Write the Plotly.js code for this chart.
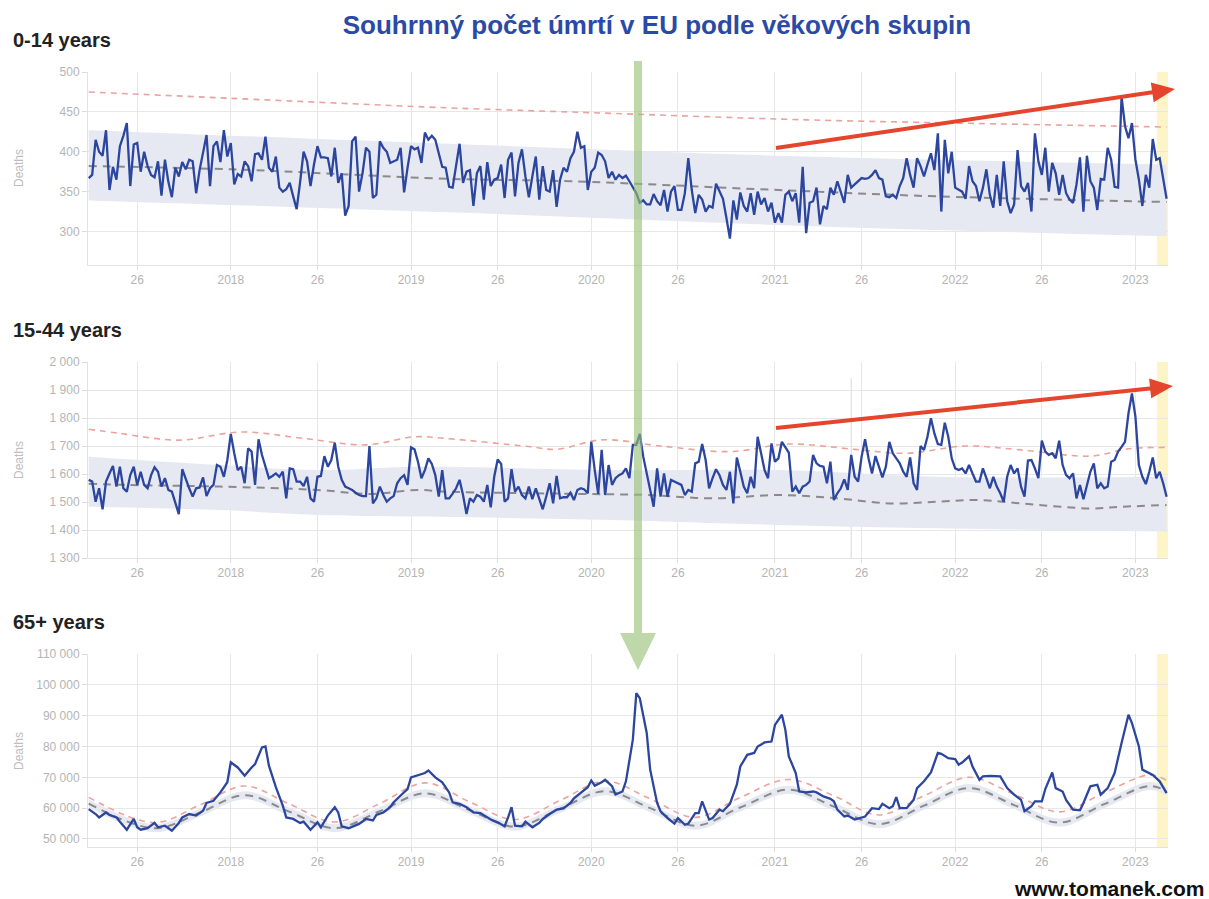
<!DOCTYPE html>
<html>
<head>
<meta charset="utf-8">
<script src="https://cdn.plot.ly/plotly-3.0.1.min.js"></script>
<style>
html,body{margin:0;padding:0;background:#ffffff;}
#chart{width:1209px;height:899px;}
</style>
</head>
<body>
<div id="chart"></div>
<script>
// ---------- DATA ----------
// Weekly series, first point = ISO week 2017-W12, last = 2023-W10
const tickWeeks  = [14, 41, 66, 93, 118, 145, 170, 198, 223, 250, 275, 302];
const tickLabels = ['26','2018','26','2019','26','2020','26','2021','26','2022','26','2023'];

const panelTitles = ['0-14 years', '15-44 years', '65+ years'];
const mainTitle = 'Souhrnný počet úmrtí v EU podle věkových skupin';
const credit = 'www.tomanek.com';
const yTitle = 'Deaths';

// 0-14 years, weekly deaths
const deaths014 = [
367,371,415,400,395,427,352,381,365,407,
420,436,357,409,411,375,400,382,371,368,
388,345,390,362,343,380,369,387,378,390,
388,348,377,398,421,357,407,413,387,427,
394,411,359,372,369,388,382,363,397,398,
390,419,380,375,394,355,350,353,361,344,
328,362,400,388,357,384,407,393,393,392,
369,405,361,373,320,332,413,419,350,373,
405,400,342,346,413,405,400,386,388,390,
405,349,380,407,403,405,386,424,415,420,
415,396,381,
380,356,355,380,410,361,375,377,332,373,
382,340,387,357,365,367,384,342,390,
399,344,386,403,369,343,369,394,340,382,
352,350,377,331,365,380,375,392,400,
425,405,407,352,375,380,399,396,388,367,
375,365,371,367,370,363,355,348,336,
339,334,334,347,338,333,352,325,350,
357,327,327,348,392,352,323,346,340,325,
332,330,360,350,341,317,291,339,315,349,
332,325,348,321,350,334,342,325,336,311,
323,311,346,350,338,348,311,381,
298,336,338,355,309,332,328,355,346,363,
350,336,371,355,359,363,367,366,367,371,
377,367,365,344,343,346,342,357,367,392,
371,355,392,382,369,384,398,377,423,325,
415,373,400,355,352,350,341,382,363,357,
338,355,378,346,330,371,332,388,338,323,
334,402,357,350,361,325,423,388,371,405,
350,386,373,346,371,348,340,336,359,393,
325,395,363,355,327,366,365,405,390,356,
355,469,432,417,436,390,365,332,371,355,
416,390,392,365,341
];
const baseWeeks014 = [0, 41, 104, 139, 199, 245, 311];
const expected014  = [382, 378, 366, 363, 352, 344, 337];
const thrWeeks014  = [0, 41, 104, 145, 207, 250, 311];
const threshold014 = [475, 467, 455, 449, 440, 436, 431];
const bandWeeks014 = [0, 104, 207, 311];
const bandHigh014  = [427, 410, 394, 384];
const bandLow014   = [339, 324, 307, 294];

// 15-44 years, weekly deaths
const deaths1544 = [
1579,1573,1501,1549,1474,1573,1602,1629,1555,1626,
1549,1537,1596,1626,1561,1608,1561,1549,1596,1624,
1608,1555,1585,1543,1537,1500,1457,1617,1579,1549,
1519,1549,1552,1588,1521,1549,1561,1632,1626,1590,
1650,1743,1674,1614,1626,1567,1692,1680,1561,1724,
1668,1626,1585,1593,1602,1590,1608,1513,1620,1617,
1573,1573,1557,1590,1513,1501,1590,1593,1664,1626,
1650,1712,1626,1579,1555,1549,1543,1533,1525,1521,
1521,1700,1495,1513,1555,1525,1501,1513,1521,1567,
1585,1596,1561,1695,1688,1644,1585,1614,1656,1636,
1596,1519,1614,
1513,1513,1530,1549,1579,1525,1457,1513,1501,1525,
1519,1501,1561,1481,1590,1652,1636,1501,1513,1617,
1537,1555,1525,1513,1555,1510,1549,1507,1474,1519,
1567,1495,1593,1513,1517,1517,1533,1507,1543,1549,
1545,1531,1715,1614,1529,1686,1525,1632,1561,1585,
1596,1602,1620,1585,1704,1704,1743,1662,1602,1543,
1483,1620,1519,1602,1519,1579,1573,1567,1561,1525,
1543,1537,1638,1644,1707,1650,1549,1585,1617,1596,
1561,1543,1608,1495,1659,1608,1555,1531,1590,1549,
1733,1674,1614,1585,1709,1644,1656,1715,1695,1676,
1537,1555,1531,1555,
1561,1573,1668,1638,1629,1626,1567,1644,1507,1531,
1549,1581,1543,1668,1590,1573,1662,1724,1656,1602,
1664,1626,1588,1626,1715,1674,1656,1638,1608,1590,
1659,1567,1543,1700,1686,1733,1799,1745,1707,1704,
1783,1733,1656,1620,1614,1620,1602,1632,1602,1573,
1573,1620,1585,1549,1590,1555,1531,1501,1590,1632,
1602,1620,1555,1519,1648,1650,1620,1585,1719,1680,
1668,1674,1656,1719,1632,1596,1585,1602,1513,1561,
1510,1561,1608,1638,1549,1567,1549,1555,1644,1650,
1680,1697,1715,1817,1888,1805,1632,1590,1564,1608,
1659,1585,1608,1567,1519
];
const baseWeeks1544 = [0, 11, 38, 66, 81, 95, 103, 141, 161, 180, 199, 216, 231, 245, 257, 269, 289, 298, 311];
const expected1544  = [1565,1561,1555,1543,1529,1543,1537,1529,1525,1513,1525,1513,1495,1501,1507,1495,1477,1483,1489];
const thrWeeks1544  = [0, 9, 26, 44, 62, 80, 94, 103, 127, 135, 148, 165, 185, 202, 221, 236, 253, 269, 289, 300, 311];
const threshold1544 = [1760,1745,1721,1750,1727,1704,1733,1727,1698,1688,1722,1700,1680,1707,1688,1674,1700,1686,1664,1690,1695];
const bandWeeks1544 = [0, 38, 66, 95, 151, 199, 245, 311];
const bandHigh1544  = [1662,1632,1614,1626,1614,1614,1590,1590];
const bandLow1544   = [1483,1471,1454,1448,1436,1418,1406,1395];

// 65+ years (read about every 1-2 weeks)
const weeks65 = [
0,2,3,5,6,8,9,11,13,14,15,17,19,20,22,24,26,27,29,31,
33,34,36,38,40,41,43,45,47,48,50,51,52,54,56,57,59,61,62,64,
66,67,69,71,72,73,75,77,78,80,82,83,85,87,88,90,92,93,95,97,
98,100,102,104,105,107,109,111,113,115,116,118,120,121,122,123,125,126,128,130,
131,133,135,137,139,140,142,144,145,146,
148,149,151,152,154,155,157,158,159,161,162,164,165,167,169,170,172,173,175,176,
177,179,180,182,183,185,187,188,190,192,193,195,197,198,200,201,202,204,205,207,
209,210,212,214,215,216,218,219,221,223,224,226,228,229,231,232,233,234,236,238,
239,241,243,245,246,248,250,251,252,254,255,257,258,260,262,263,265,267,269,270,
272,273,275,276,278,279,281,282,284,286,287,289,291,292,294,296,298,300,301,303,
304,306,307,309,311
];
const deaths65 = [
59700,58100,57000,58600,57800,57000,55600,53000,56500,53800,53000,53500,55200,53800,54300,52700,55200,57000,58100,57600,
59200,61700,62400,65100,68400,74900,73200,70500,73200,74300,79700,80000,73800,66800,60800,57000,56500,55200,55600,53000,
55400,53800,57600,60300,58600,54100,53500,54300,54900,56500,56000,57800,58600,60300,61900,64100,66200,70000,70800,71400,
72200,70000,68400,65100,61900,61400,60300,58600,58400,57000,56300,55400,54100,57000,60300,54300,54100,55600,53800,55200,
56500,58100,59500,59900,61700,63200,65100,66800,69000,67300,
68400,69200,67100,64400,65400,68700,82200,97300,95700,84400,72500,61700,59000,56800,55000,56800,54600,55000,58400,58400,
62200,56300,56800,59500,59000,61400,67600,73500,77300,77900,80000,81300,81600,87000,90300,85400,76800,71400,65400,65100,
65400,65100,63800,63000,62200,59500,57300,57600,56300,57100,57300,60000,59700,61400,60000,60600,63600,60000,60000,62700,
66500,68700,71600,77900,77600,76200,75900,74100,74800,76800,73500,69200,70300,70500,70500,70300,66500,64400,62700,59000,
60600,62200,62200,66200,71600,66500,65400,62700,59500,59300,61700,67100,67600,64400,66500,71400,81100,90300,87600,80000,
72500,71400,70800,68700,64900
];
const baseWeeks65 = [0,19,32,45,58,71,84,97,110,123,136,149,162,175,188,202,215,228,241,254,267,280,293,306,311];
const expected65  = [61500,53500,58500,64200,58800,53500,59000,64800,59300,54000,59800,65500,60000,54300,60200,66000,60500,54800,60800,66500,61000,55300,61300,67200,65500];
const threshold65 = [63500,55300,61000,67200,61300,55500,61500,68200,62000,56300,62500,68800,63000,57000,63500,69300,64000,57800,64000,70000,64500,58800,65000,70800,69000];
const bandHigh65  = [62800,54800,59800,65500,60100,54800,60300,66100,60600,55300,61100,66800,61300,55600,61500,67300,61800,56100,62100,67800,62300,56600,62600,68500,66800];
const bandLow65   = [60200,52200,57200,62900,57500,52200,57700,63500,58000,52700,58500,64200,58700,53000,58900,64700,59200,53500,59500,65200,59700,54000,60000,65900,64200];

// highlighted (incomplete) last weeks
const highlightFrom = 308.2;

// ---------- STYLE ----------
const FONT = 'Liberation Sans, Arial, Helvetica, sans-serif';
const C_MAIN = '#2c469f';
const C_EXP = '#8a8a8a';
const C_THR = '#eaa39d';
const C_BAND = '#e6e9f1';
const C_GRID = '#e7e7e7';
const C_TICK = '#b4b4b4';

// plot area in pixels
const L = 88, R = 1168, T = 72, B = 847;
const fx = px => (px - L) / (R - L);
const fy = py => (B - py) / (B - T);

const X_RANGE = [-0.2, 311.4];
const idx = arr => arr.map((_, i) => i);

function panelTraces(n, series, sx, bw, bh, bl, ew, ev, tw, tv) {
  const xa = n === 1 ? 'x' : 'x' + n, ya = n === 1 ? 'y' : 'y' + n;
  return [
    {x: bw, y: bl, xaxis: xa, yaxis: ya, mode: 'lines', line: {width: 0, shape: 'spline'}, hoverinfo: 'skip', showlegend: false},
    {x: bw, y: bh, xaxis: xa, yaxis: ya, mode: 'lines', line: {width: 0, shape: 'spline'}, fill: 'tonexty', fillcolor: C_BAND, hoverinfo: 'skip', showlegend: false},
    {x: tw, y: tv, xaxis: xa, yaxis: ya, mode: 'lines', line: {color: C_THR, width: 1.6, dash: '6px,5px', shape: 'spline'}, hoverinfo: 'skip', showlegend: false},
    {x: ew, y: ev, xaxis: xa, yaxis: ya, mode: 'lines', line: {color: C_EXP, width: 2, dash: '8px,6px', shape: 'spline'}, hoverinfo: 'skip', showlegend: false},
    {x: sx, y: series, xaxis: xa, yaxis: ya, mode: 'lines', line: {color: C_MAIN, width: 2.3}, hoverinfo: 'skip', showlegend: false}
  ];
}

const data = [].concat(
  panelTraces(1, deaths014, idx(deaths014), bandWeeks014, bandHigh014, bandLow014, baseWeeks014, expected014, thrWeeks014, threshold014),
  panelTraces(2, deaths1544, idx(deaths1544), bandWeeks1544, bandHigh1544, bandLow1544, baseWeeks1544, expected1544, thrWeeks1544, threshold1544),
  panelTraces(3, deaths65, weeks65, baseWeeks65, bandHigh65, bandLow65, baseWeeks65, expected65, baseWeeks65, threshold65)
);

function xAxis(anchor) {
  return {
    anchor: anchor, domain: [0, 1], range: X_RANGE, fixedrange: true,
    tickmode: 'array', tickvals: tickWeeks, ticktext: tickLabels,
    showgrid: true, gridcolor: C_GRID, gridwidth: 1, zeroline: false,
    showline: true, linecolor: '#e2e2e2', linewidth: 1,
    ticks: 'outside', ticklen: 4, tickcolor: '#dcdcdc',
    tickfont: {family: FONT, size: 12, color: C_TICK}
  };
}
function yAxis(anchor, domain, range, dtick) {
  return {
    anchor: anchor, domain: domain, range: range, dtick: dtick, tick0: 0, fixedrange: true,
    showgrid: true, gridcolor: C_GRID, gridwidth: 1, zeroline: false,
    showline: true, linecolor: '#e2e2e2', linewidth: 1,
    ticks: 'outside', ticklen: 5, tickcolor: '#dcdcdc',
    tickformat: ',d', separatethousands: true,
    tickfont: {family: FONT, size: 12, color: C_TICK}
  };
}

function arrow(x0, y0, x1, y1, color, width, headLen, headHalf) {
  const dx = x1 - x0, dy = y1 - y0, len = Math.hypot(dx, dy);
  const ux = dx / len, uy = dy / len;
  const bx = x1 - ux * headLen, by = y1 - uy * headLen;
  const nx = -uy, ny = ux;
  const a = [bx + nx * headHalf, by + ny * headHalf];
  const b = [bx - nx * headHalf, by - ny * headHalf];
  return [
    {type: 'line', xref: 'paper', yref: 'paper', layer: 'above',
     x0: fx(x0), y0: fy(y0), x1: fx(bx + ux * 2), y1: fy(by + uy * 2),
     line: {color: color, width: width}},
    {type: 'path', xref: 'paper', yref: 'paper', layer: 'above',
     path: `M ${fx(x1)} ${fy(y1)} L ${fx(a[0])} ${fy(a[1])} L ${fx(b[0])} ${fy(b[1])} Z`,
     fillcolor: color, line: {width: 0}}
  ];
}

const D1 = [fy(265), fy(72)], D2 = [fy(558), fy(362)], D3 = [fy(847), fy(654)];

const shapes = [];
['y', 'y2', 'y3'].forEach((ya, i) => {
  shapes.push({type: 'rect', xref: i === 0 ? 'x' : 'x' + (i + 1), yref: ya + ' domain',
    x0: highlightFrom, x1: X_RANGE[1], y0: 0, y1: 1, layer: 'below',
    fillcolor: 'rgba(252,240,180,0.75)', line: {width: 0}});
});
// stray hover spike line visible in the source image (15-44 panel)
shapes.push({type: 'line', xref: 'x2', yref: 'y2', x0: 220, x1: 220, y0: 1300, y1: 1943, layer: 'below',
  line: {color: '#d9d9d9', width: 1}});
// green pointer
const GREEN = 'rgba(150,192,118,0.62)';
shapes.push({type: 'line', xref: 'paper', yref: 'paper', layer: 'above',
  x0: fx(638), x1: fx(638), y0: fy(61), y1: fy(633), line: {color: GREEN, width: 8}});
shapes.push({type: 'path', xref: 'paper', yref: 'paper', layer: 'above',
  path: `M ${fx(620)} ${fy(633)} L ${fx(656)} ${fy(633)} L ${fx(638)} ${fy(670)} Z`,
  fillcolor: GREEN, line: {width: 0}});
// red trend arrows
Array.prototype.push.apply(shapes, arrow(776, 148, 1175, 89, '#e4452c', 4, 23, 10));
Array.prototype.push.apply(shapes, arrow(776, 428, 1173, 386, '#e4452c', 4, 23, 10));

const PT_FONT = {family: FONT, size: 20, color: '#222'};
const annotations = [
  {text: '<b>' + panelTitles[0] + '</b>', xref: 'paper', yref: 'paper', x: fx(11), y: fy(40), xanchor: 'left', yanchor: 'middle', showarrow: false, font: PT_FONT},
  {text: '<b>' + panelTitles[1] + '</b>', xref: 'paper', yref: 'paper', x: fx(11), y: fy(330), xanchor: 'left', yanchor: 'middle', showarrow: false, font: PT_FONT},
  {text: '<b>' + panelTitles[2] + '</b>', xref: 'paper', yref: 'paper', x: fx(11), y: fy(622), xanchor: 'left', yanchor: 'middle', showarrow: false, font: PT_FONT},
  {text: yTitle, xref: 'paper', yref: 'paper', x: fx(19), y: fy(168), textangle: -90, xanchor: 'center', yanchor: 'middle', showarrow: false, font: {family: FONT, size: 12, color: '#bdbdbd'}},
  {text: yTitle, xref: 'paper', yref: 'paper', x: fx(19), y: fy(460), textangle: -90, xanchor: 'center', yanchor: 'middle', showarrow: false, font: {family: FONT, size: 12, color: '#bdbdbd'}},
  {text: yTitle, xref: 'paper', yref: 'paper', x: fx(19), y: fy(751), textangle: -90, xanchor: 'center', yanchor: 'middle', showarrow: false, font: {family: FONT, size: 12, color: '#bdbdbd'}},
  {text: '<b>' + credit + '</b>', xref: 'paper', yref: 'paper', x: fx(1206), y: fy(888), xanchor: 'right', yanchor: 'middle', showarrow: false, font: {family: FONT, size: 21, color: '#111'}}
];

const layout = {
  width: 1209, height: 899,
  margin: {l: L, r: 1209 - R, t: T, b: 899 - B, pad: 0},
  paper_bgcolor: '#ffffff', plot_bgcolor: '#ffffff',
  separators: '. ',
  showlegend: false,
  title: {text: '<b>' + mainTitle + '</b>', xref: 'container', yref: 'container', x: 657 / 1209, xanchor: 'center', y: 1 - 25 / 899, yanchor: 'middle',
          font: {family: FONT, size: 26, color: '#2b4aa6'}},
  xaxis: xAxis('y'), xaxis2: xAxis('y2'), xaxis3: xAxis('y3'),
  yaxis: yAxis('x', D1, [258, 500], 50),
  yaxis2: yAxis('x2', D2, [1300, 2000], 100),
  yaxis3: yAxis('x3', D3, [47400, 110000], 10000),
  shapes: shapes,
  annotations: annotations,
  hovermode: false
};

Plotly.newPlot('chart', data, layout, {staticPlot: true, displayModeBar: false});
</script>
</body>
</html>
